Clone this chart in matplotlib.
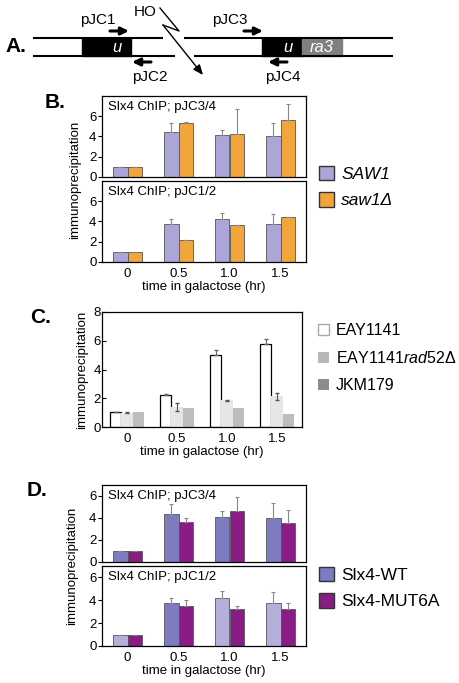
import matplotlib.pyplot as plt
import numpy as np
from matplotlib.patches import Patch, Rectangle

plt.rcParams["font.family"] = ["Liberation Sans", "DejaVu Sans"]
plt.rcParams["mathtext.fontset"] = "custom"
plt.rcParams["mathtext.it"] = "Liberation Sans:italic"
plt.rcParams["mathtext.rm"] = "Liberation Sans"

W, H = 459, 683

times = ["0", "0.5", "1.0", "1.5"]

# panel B
b_top_saw1 = [1.0, 4.4, 4.1, 4.0]
b_top_saw1_err = [0.0, 0.9, 0.55, 1.35]
b_top_del = [1.0, 5.3, 4.2, 5.6]
b_top_del_err = [0.0, 0.1, 2.5, 1.65]
b_bot_saw1 = [1.0, 3.75, 4.2, 3.75]
b_bot_saw1_err = [0.0, 0.5, 0.6, 1.0]
b_bot_del = [1.0, 2.15, 3.7, 4.4]
b_bot_del_err = [0.0, 0.0, 0.0, 0.0]

# panel C
c_eay = [1.05, 2.2, 5.0, 5.75]
c_eay_err = [0.0, 0.1, 0.35, 0.35]
c_rad52 = [1.0, 1.4, 1.85, 2.15]
c_rad52_err = [0.05, 0.3, 0.05, 0.25]
c_jkm = [1.05, 1.3, 1.3, 0.9]

# panel D
d_top_wt = [1.0, 4.4, 4.05, 4.0]
d_top_wt_err = [0.0, 0.9, 0.6, 1.4]
d_top_mut = [1.0, 3.6, 4.6, 3.55]
d_top_mut_err = [0.0, 0.4, 1.35, 1.15]
d_bot_wt = [1.0, 3.75, 4.2, 3.75]
d_bot_wt_err = [0.0, 0.45, 0.6, 1.0]
d_bot_mut = [1.0, 3.5, 3.2, 3.25]
d_bot_mut_err = [0.0, 0.5, 0.3, 0.55]

PURPLE_L = "#aaa6d8"
ORANGE = "#f2a53a"
WT = "#7e7cc0"
WT_L = "#b3b1dc"
MUT = "#8a1c85"
EDGE = "#555555"
ERR = "#888888"


def px_axes(fig, x0, y0, x1, y1):
    return fig.add_axes([x0 / W, 1 - y1 / H, (x1 - x0) / W, (y1 - y0) / H])


def style(ax, ymax, yticks, show_x):
    ax.set_xlim(-0.5, 3.5)
    ax.set_ylim(0, ymax)
    ax.set_yticks(yticks)
    ax.tick_params(axis="y", direction="out", length=3, labelsize=9.5, pad=1)
    if show_x:
        ax.set_xticks(np.arange(len(times)))
        ax.set_xticklabels(times, fontsize=9.5)
        ax.tick_params(axis="x", length=0, pad=4)
    else:
        ax.set_xticks([])
    for s in ax.spines.values():
        s.set_linewidth(0.9)


def pair(ax, a, a_err, b, b_err, ca, cb, w=0.28):
    x = np.arange(len(a))
    zeros = np.zeros(len(a))
    ax.bar(x - w / 2, a, w, color=ca, edgecolor=EDGE, linewidth=0.6,
           yerr=[zeros, a_err], error_kw=dict(ecolor=ERR, elinewidth=0.8, capsize=1.5, capthick=0.8))
    ax.bar(x + w / 2, b, w, color=cb, edgecolor=EDGE, linewidth=0.6,
           yerr=[zeros, b_err], error_kw=dict(ecolor=ERR, elinewidth=0.8, capsize=1.5, capthick=0.8))


fig = plt.figure(figsize=(W / 100, H / 100), dpi=100)

# ---- A: diagram ----
axA = fig.add_axes([0, 1 - 88 / H, 1, 88 / H])
axA.set_xlim(0, W)
axA.set_ylim(88, 0)
axA.axis("off")
for x0, x1, y in [(33, 163, 38), (33, 175, 56), (184, 393, 38), (194, 393, 56)]:
    axA.plot([x0, x1], [y, y], color="black", lw=1.5, solid_capstyle="butt")
axA.add_patch(Rectangle((82, 38), 49, 18, color="black"))
axA.add_patch(Rectangle((262, 38), 40, 18, color="black"))
axA.add_patch(Rectangle((302, 38), 40, 18, color="#808080"))
axA.text(117, 47, "u", color="white", style="italic", fontsize=12, ha="center", va="center")
axA.text(288, 47, "u", color="white", style="italic", fontsize=12, ha="center", va="center")
axA.text(322, 47, "ra3", color="white", style="italic", fontsize=12, ha="center", va="center")
arrow = dict(arrowstyle="-|>,head_length=0.45,head_width=0.22", color="black", lw=2.2,
             shrinkA=0, shrinkB=0)
axA.annotate("", xy=(129, 31), xytext=(110, 31), arrowprops=arrow)
axA.annotate("", xy=(132, 62), xytext=(151, 62), arrowprops=arrow)
axA.annotate("", xy=(263, 31), xytext=(244, 31), arrowprops=arrow)
axA.annotate("", xy=(268, 62), xytext=(287, 62), arrowprops=arrow)
axA.text(98, 20, "pJC1", fontsize=11, ha="center", va="center")
axA.text(150, 77, "pJC2", fontsize=11, ha="center", va="center")
axA.text(230, 20, "pJC3", fontsize=11, ha="center", va="center")
axA.text(283, 77, "pJC4", fontsize=11, ha="center", va="center")
axA.text(145, 12, "HO", fontsize=11, ha="center", va="center")
axA.plot([160, 179, 163], [8, 31, 25], color="black", lw=1)
axA.annotate("", xy=(203, 75), xytext=(163, 25),
             arrowprops=dict(arrowstyle="-|>,head_length=0.6,head_width=0.25", color="black", lw=1,
                             shrinkA=0, shrinkB=0))
axA.text(5, 47, "A.", fontsize=15, fontweight="bold", ha="left", va="center")

# ---- B ----
axB1 = px_axes(fig, 102, 96, 306, 177)
axB2 = px_axes(fig, 102, 181, 306, 262)
pair(axB1, b_top_saw1, b_top_saw1_err, b_top_del, b_top_del_err, PURPLE_L, ORANGE)
pair(axB2, b_bot_saw1, b_bot_saw1_err, b_bot_del, b_bot_del_err, PURPLE_L, ORANGE)
style(axB1, 8, [0, 2, 4, 6], False)
style(axB2, 8, [0, 2, 4, 6], True)
axB1.text(0.03, 0.86, "Slx4 ChIP; pJC3/4", transform=axB1.transAxes, fontsize=9.5, va="center")
axB2.text(0.03, 0.86, "Slx4 ChIP; pJC1/2", transform=axB2.transAxes, fontsize=9.5, va="center")
axB2.set_xlabel("time in galactose (hr)", fontsize=9.5, labelpad=1)
fig.text(75 / W, 1 - 180 / H, "immunoprecipitation", rotation=90, fontsize=9.5, ha="center", va="center")
fig.text(45 / W, 1 - 103 / H, "B.", fontsize=15, fontweight="bold", va="center")
fig.legend([Patch(facecolor=PURPLE_L, edgecolor="#333333"), Patch(facecolor=ORANGE, edgecolor="#333333")],
           ["SAW1", "saw1Δ"], loc="upper left", bbox_to_anchor=(310 / W, 1 - 157 / H),
           frameon=False, prop=dict(size=12.5, style="italic"), handlelength=0.9, handleheight=0.9,
           handletextpad=0.4, labelspacing=0.6, borderpad=0)

# ---- C ----
axC = px_axes(fig, 102, 312, 302, 427)
x = np.arange(len(times))
w = 0.23
z = np.zeros(len(times))
axC.bar(x - w, c_eay, w, color="white", edgecolor="black", linewidth=0.9,
        yerr=[z, c_eay_err], error_kw=dict(ecolor="#666666", elinewidth=0.8, capsize=1.5))
axC.bar(x, c_rad52, w, color="#e6e6e6", yerr=c_rad52_err,
        error_kw=dict(ecolor="#555555", elinewidth=0.8, capsize=1.5))
axC.bar(x + w, c_jkm, w, color="#bdbdbd")
style(axC, 8, [0, 2, 4, 6, 8], True)
axC.tick_params(axis="y", direction="in")
axC.set_xlabel("time in galactose (hr)", fontsize=9.5, labelpad=1)
axC.set_ylabel("immunoprecipitation", fontsize=9.5, labelpad=4)
fig.text(30 / W, 1 - 318 / H, "C.", fontsize=15, fontweight="bold", va="center")
fig.legend([Patch(facecolor="white", edgecolor="#aaaaaa"), Patch(facecolor="#b8b8b8"), Patch(facecolor="#8c8c8c")],
           ["EAY1141", "EAY1141$\\it{rad52Δ}$", "JKM179"], loc="upper left",
           bbox_to_anchor=(310 / W, 1 - 315 / H), frameon=False, fontsize=11.5,
           handlelength=0.7, handleheight=0.7, handletextpad=0.4, labelspacing=0.75, borderpad=0)

# ---- D ----
axD1 = px_axes(fig, 102, 485, 306, 562)
axD2 = px_axes(fig, 102, 566, 306, 646)
pair(axD1, d_top_wt, d_top_wt_err, d_top_mut, d_top_mut_err, WT, MUT)
pair(axD2, d_bot_wt, d_bot_wt_err, d_bot_mut, d_bot_mut_err, [WT_L, WT, WT_L, WT_L], MUT)
style(axD1, 7, [0, 2, 4, 6], False)
style(axD2, 7, [0, 2, 4, 6], True)
axD1.text(0.03, 0.86, "Slx4 ChIP; pJC3/4", transform=axD1.transAxes, fontsize=9.5, va="center")
axD2.text(0.03, 0.86, "Slx4 ChIP; pJC1/2", transform=axD2.transAxes, fontsize=9.5, va="center")
axD2.set_xlabel("time in galactose (hr)", fontsize=9.5, labelpad=1)
fig.text(72 / W, 1 - 566 / H, "immunoprecipitation", rotation=90, fontsize=9.5, ha="center", va="center")
fig.text(27 / W, 1 - 490 / H, "D.", fontsize=15, fontweight="bold", va="center")
fig.legend([Patch(facecolor=WT, edgecolor="#333333"), Patch(facecolor=MUT, edgecolor="#333333")],
           ["Slx4-WT", "Slx4-MUT6A"], loc="upper left", bbox_to_anchor=(310 / W, 1 - 558 / H),
           frameon=False, fontsize=12.5, handlelength=0.9, handleheight=0.9,
           handletextpad=0.4, labelspacing=0.6, borderpad=0)

fig.savefig("out.png", dpi=100)
